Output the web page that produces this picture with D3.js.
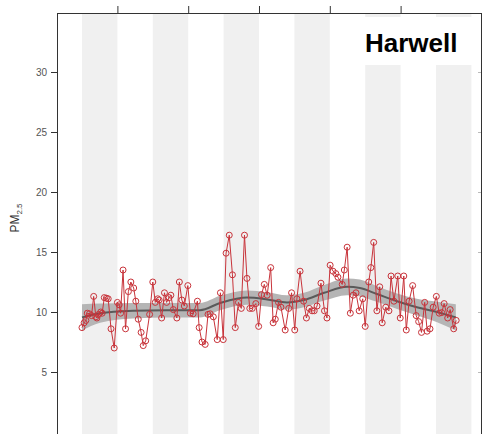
<!DOCTYPE html>
<html>
<head>
<meta charset="utf-8">
<script src="https://cdn.jsdelivr.net/npm/d3@7"></script>
<style>
  body { margin: 0; background: #fff; }
  svg { display: block; font-family: "Liberation Sans", Arial, sans-serif; }
</style>
</head>
<body>
<script>
// monthly PM2.5 means, Harwell (decimal years)
const times = [1999.00,1999.06,1999.11,1999.15,1999.21,1999.27,1999.33,1999.39,1999.42,1999.47,
  1999.53,1999.57,1999.63,1999.69,1999.74,1999.82,1999.91,2000.00,2000.05,2000.09,
  2000.16,2000.23,2000.31,2000.38,2000.46,2000.52,2000.59,2000.67,2000.73,2000.80,
  2000.91,2001.00,2001.07,2001.14,2001.18,2001.25,2001.33,2001.39,2001.46,2001.51,
  2001.58,2001.68,2001.75,2001.82,2001.89,2001.99,2002.06,2002.14,2002.26,2002.31,
  2002.39,2002.48,2002.56,2002.62,2002.71,2002.82,2002.91,2002.99,2003.07,2003.16,
  2003.25,2003.33,2003.42,2003.50,2003.59,2003.66,2003.74,2003.81,2003.91,2003.99,
  2004.07,2004.15,2004.23,2004.33,2004.40,2004.46,2004.55,2004.62,2004.74,2004.84,
  2004.92,2005.01,2005.07,2005.16,2005.26,2005.34,2005.42,2005.50,2005.56,2005.64,
  2005.75,2005.85,2005.92,2006.01,2006.09,2006.17,2006.23,2006.35,2006.41,2006.49,
  2006.58,2006.66,2006.74,2006.83,2006.93,2007.00,2007.10,2007.16,2007.24,2007.33,
  2007.41,2007.48,2007.58,2007.67,2007.73,2007.81,2007.92,2007.99,2008.09,2008.16,
  2008.24,2008.34,2008.44,2008.51,2008.59,2008.68,2008.75,2008.83,2008.92,2009.01,
  2009.09,2009.16,2009.23,2009.33,2009.40,2009.50,2009.57];
const pm25 = [8.7,9.1,9.3,9.9,9.85,9.7,11.3,9.6,9.5,9.8,
  10.0,9.9,11.2,11.15,11.1,8.6,7.0,10.8,10.6,9.9,
  13.5,8.6,11.7,12.5,12.0,10.9,9.4,8.3,7.2,7.6,
  9.8,12.5,10.8,11.1,11.0,9.5,11.6,10.8,11.2,11.4,
  10.2,9.5,12.5,11.0,10.5,12.2,9.9,9.85,10.9,8.7,
  7.5,7.3,9.8,9.85,9.6,7.7,11.6,7.7,14.9,16.4,
  13.1,8.7,10.8,10.3,16.4,12.8,10.3,10.3,10.7,8.8,
  11.45,12.3,11.4,13.7,9.1,9.4,10.8,10.4,8.5,10.3,
  11.6,8.5,11.1,13.4,10.9,9.5,10.3,10.1,10.1,10.5,
  12.4,10.1,9.5,13.9,13.4,13.2,12.9,12.3,13.5,15.4,
  9.9,11.4,11.6,10.1,11.1,8.8,12.5,13.7,15.8,10.1,
  12.1,9.1,10.4,10.1,13.0,10.9,13.0,9.5,13.0,8.5,
  10.9,12.2,9.7,9.2,8.3,10.8,8.4,8.6,10.4,11.3,
  9.9,9.95,10.7,9.5,10.2,8.6,9.3];

// smooth trend and its confidence half-width
const trendTimes = [1999.00,1999.51,2000.44,2001.40,2002.33,2002.90,2003.66,2004.23,2004.79,
  2005.27,2005.84,2006.49,2006.85,2007.33,2007.90,2008.46,2009.03,2009.56];
const trendFit = [9.55,9.9,10.1,10.15,10.15,10.75,11.2,11.05,10.8,11.0,11.6,12.1,12.0,11.5,10.9,10.4,10.0,9.55];
const trendHalf = [1.1,0.8,0.65,0.6,0.6,0.6,0.6,0.6,0.6,0.6,0.65,0.7,0.7,0.65,0.65,0.7,0.85,1.1];

const shadedYears = [1999, 2001, 2003, 2005, 2007, 2009];
const xTicks = [2000, 2002, 2004, 2006, 2008];
const yTicks = [5, 10, 15, 20, 25, 30];
const siteName = 'Harwell';

const width = 487, height = 434;
const plotLeft = 57, plotRight = 481, plotTop = 13, plotBottom = 460;

const svg = d3.select('body')
  .append('svg')
  .attr('width', width)
  .attr('height', height);

const x = d3.scaleLinear().domain([1998.294, 2010.271]).range([plotLeft, plotRight]);
const y = d3.scaleLinear().domain([0, 35]).range([432, 12]);

// alternating year bands
svg.selectAll('.band')
  .data(shadedYears)
  .enter()
  .append('rect')
  .attr('x', d => x(d))
  .attr('y', plotTop)
  .attr('width', d => x(d + 1) - x(d))
  .attr('height', plotBottom - plotTop)
  .attr('fill', '#f0f0f0');

// confidence band
const trend = trendTimes.map((t, i) => ({ t, fit: trendFit[i], half: trendHalf[i] }));
svg.append('path')
  .datum(trend)
  .attr('fill', '#b5b5b5')
  .attr('d', d3.area()
    .curve(d3.curveMonotoneX)
    .x(d => x(d.t))
    .y0(d => y(d.fit - d.half))
    .y1(d => y(d.fit + d.half)));

svg.append('path')
  .datum(trend)
  .attr('fill', 'none')
  .attr('stroke', '#5a5a5a')
  .attr('stroke-width', 2)
  .attr('d', d3.line()
    .curve(d3.curveMonotoneX)
    .x(d => x(d.t))
    .y(d => y(d.fit)));

// monthly series
const pts = times.map((t, i) => ({ t, v: pm25[i] }));
svg.append('path')
  .datum(pts)
  .attr('fill', 'none')
  .attr('stroke', '#c8333a')
  .attr('stroke-width', 1)
  .attr('d', d3.line().x(d => x(d.t)).y(d => y(d.v)));

svg.selectAll('.pt')
  .data(pts)
  .enter()
  .append('circle')
  .attr('cx', d => x(d.t))
  .attr('cy', d => y(d.v))
  .attr('r', 3)
  .attr('fill', 'none')
  .attr('stroke', '#c8333a')
  .attr('stroke-width', 1);

// site label
svg.append('rect')
  .attr('x', 363)
  .attr('y', 17)
  .attr('width', plotRight - 363)
  .attr('height', 48)
  .attr('fill', 'white');
svg.append('text')
  .attr('x', 365)
  .attr('y', 52)
  .attr('font-size', 26)
  .attr('font-weight', 'bold')
  .attr('fill', '#000')
  .text(siteName);

// axes
svg.append('g')
  .attr('transform', `translate(${plotLeft},0)`)
  .call(d3.axisLeft(y).tickValues(yTicks).tickSize(6).tickPadding(4))
  .call(g => g.select('.domain').remove())
  .call(g => g.selectAll('line').attr('stroke', '#333'))
  .call(g => g.selectAll('text').attr('fill', '#555').attr('font-size', 10)
    .attr('font-family', '"Liberation Sans", Arial, sans-serif'));

svg.append('g')
  .attr('transform', `translate(${plotRight},0)`)
  .call(d3.axisLeft(y).tickValues(yTicks).tickSize(3).tickFormat(''))
  .call(g => g.select('.domain').remove())
  .call(g => g.selectAll('line').attr('stroke', '#bbb'));

svg.append('g')
  .attr('transform', `translate(0,${plotTop})`)
  .call(d3.axisTop(x).tickValues(xTicks).tickSize(7).tickFormat(''))
  .call(g => g.select('.domain').remove())
  .call(g => g.selectAll('line').attr('stroke', '#333'));

// frame
svg.append('rect')
  .attr('x', plotLeft + 0.5)
  .attr('y', plotTop + 0.5)
  .attr('width', plotRight - plotLeft)
  .attr('height', plotBottom - plotTop)
  .attr('fill', 'none')
  .attr('stroke', '#333');

// y label with subscript
const ylab = svg.append('text')
  .attr('transform', 'translate(19,218) rotate(-90)')
  .attr('text-anchor', 'middle')
  .attr('font-size', 12)
  .attr('fill', '#333');
ylab.append('tspan').text('PM');
ylab.append('tspan').attr('font-size', 8).attr('dy', 3).text('2.5');
</script>
</body>
</html>
